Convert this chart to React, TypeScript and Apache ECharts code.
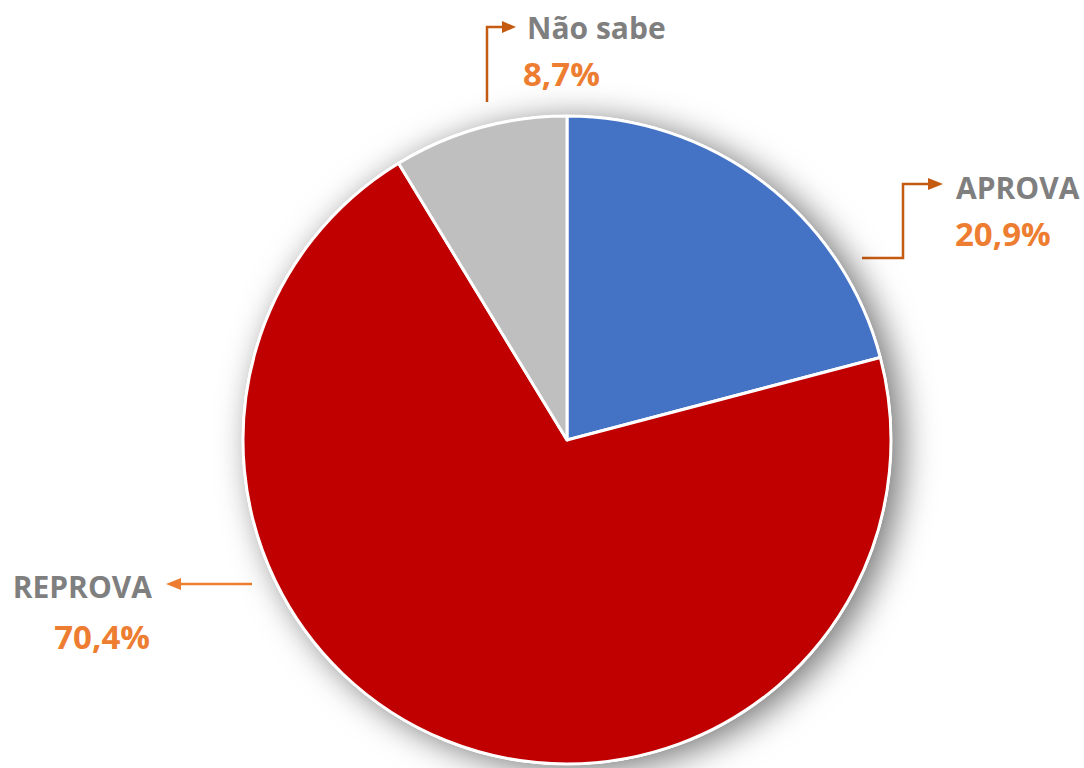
import React, { useEffect, useRef } from "react";
import * as echarts from "echarts";

const categories = ["APROVA", "REPROVA", "Não sabe"];
const values = [20.9, 70.4, 8.7];
const colors = ["#4472C4", "#C00000", "#BFBFBF"];
const pctLabels = ["20,9%", "70,4%", "8,7%"];

export default function App() {
  const ref = useRef<HTMLDivElement>(null);
  useEffect(() => {
    if (!ref.current) return;
    const chart = echarts.init(ref.current, null, { renderer: "svg" });
    const font = "'Open Sans', 'Liberation Sans', sans-serif";
    const nameStyle = { fill: "#7F7F7F", font: `bold 30px ${font}` };
    const pctStyle = { fill: "#ED7D31", font: `bold 33px ${font}` };
    const dark = "#C55A11";
    const light = "#ED7D31";
    const total = values.reduce((a, b) => a + b, 0);
    chart.setOption({
      animation: false,
      backgroundColor: "#ffffff",
      series: [
        {
          type: "pie",
          z: 1,
          silent: true,
          center: [567, 440],
          radius: [0, 325],
          label: { show: false },
          labelLine: { show: false },
          emphasis: { disabled: true },
          tooltip: { show: false },
          itemStyle: {
            color: "#ffffff",
            shadowBlur: 34,
            shadowOffsetX: 10,
            shadowOffsetY: 5,
            shadowColor: "rgba(0,0,0,0.55)",
          },
          data: [{ name: "", value: total }],
        },
        {
          type: "pie",
          z: 2,
          center: [567, 440],
          radius: [0, 324],
          startAngle: 90,
          clockwise: true,
          label: { show: false },
          labelLine: { show: false },
          emphasis: { disabled: true },
          itemStyle: {
            borderColor: "#ffffff",
            borderWidth: 3,
          },
          data: categories.map((c, i) => ({
            name: c,
            value: values[i],
            itemStyle: { color: colors[i] },
          })),
        },
      ],
      graphic: [
        // Não sabe
        { type: "polyline", shape: { points: [[487, 102], [487, 27], [504, 27]] }, style: { stroke: dark, lineWidth: 2.5, fill: null } },
        { type: "polygon", shape: { points: [[502, 21], [516, 27], [502, 33]] }, style: { fill: dark } },
        { type: "text", x: 527, y: 27, style: { ...nameStyle, text: categories[2], verticalAlign: "middle" } },
        { type: "text", x: 523, y: 73, style: { ...pctStyle, text: pctLabels[2], verticalAlign: "middle" } },
        // APROVA
        { type: "polyline", shape: { points: [[862, 258], [903, 258], [903, 184], [930, 184]] }, style: { stroke: dark, lineWidth: 2.5, fill: null } },
        { type: "polygon", shape: { points: [[928, 178], [943, 184], [928, 190]] }, style: { fill: dark } },
        { type: "text", x: 956, y: 187, style: { ...nameStyle, text: categories[0], verticalAlign: "middle" } },
        { type: "text", x: 955, y: 233, style: { ...pctStyle, text: pctLabels[0], verticalAlign: "middle" } },
        // REPROVA
        { type: "line", shape: { x1: 252, y1: 584, x2: 178, y2: 584 }, style: { stroke: light, lineWidth: 2.5 } },
        { type: "polygon", shape: { points: [[181, 578], [166, 584], [181, 590]] }, style: { fill: light } },
        { type: "text", x: 152, y: 586, style: { ...nameStyle, text: categories[1], align: "right", verticalAlign: "middle" } },
        { type: "text", x: 150, y: 636, style: { ...pctStyle, text: pctLabels[1], align: "right", verticalAlign: "middle" } },
      ],
    });
    return () => chart.dispose();
  }, []);
  return (
    <div
      ref={ref}
      style={{ position: "fixed", left: 0, top: 0, width: 1084, height: 768 }}
    />
  );
}
